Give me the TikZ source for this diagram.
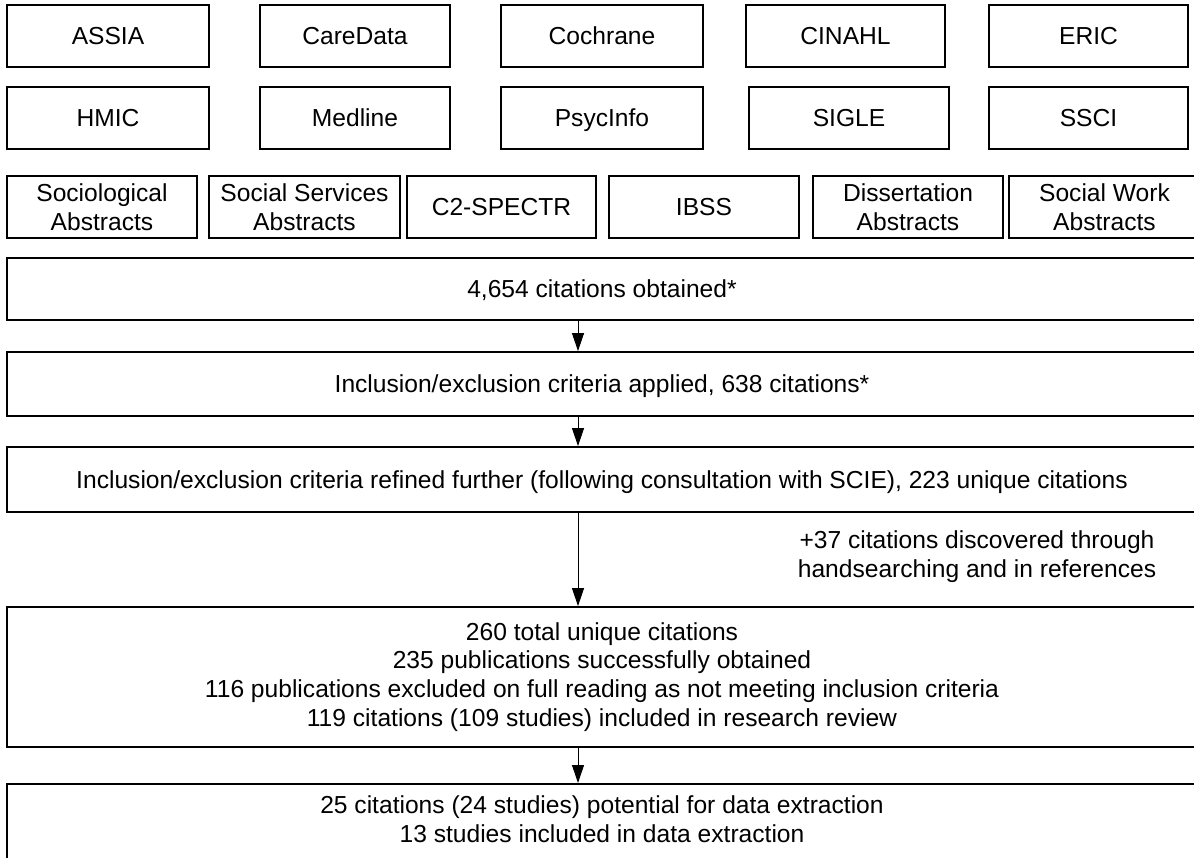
\documentclass[tikz,border=0pt]{standalone}
\usepackage{fontspec}
\setmainfont{Liberation Sans}
\usetikzlibrary{arrows.meta}
\begin{document}
\begin{tikzpicture}[x=1pt,y=-1pt,
  txt/.style={font=\fontsize{24.6}{28.8}\selectfont, align=center},
  one/.style={text height=18pt, text depth=1pt},
  db/.style={txt, draw, line width=1.8pt, inner sep=0pt, minimum height=62pt},
  wide/.style={txt, draw, line width=1.8pt, inner sep=0pt, minimum width=1190pt},
  arr/.style={-{Triangle[length=18pt,width=12pt]}, line width=1pt}]
\useasboundingbox (0,0) rectangle (1194,858);
\clip (0,0) rectangle (1194,858);
% row 1
\node[db, one, minimum width=202pt] (assia) at (108,36) {ASSIA};
\node[db, one, minimum width=190pt] (care) at (355,36) {CareData};
\node[db, one, minimum width=202pt] (coch) at (602,36) {Cochrane};
\node[db, one, minimum width=199pt] (cin) at (845.5,36) {CINAHL};
\node[db, one, minimum width=199pt] (eric) at (1088.5,36) {ERIC};
% row 2
\node[db, one, minimum width=202pt] (hmic) at (108,118) {HMIC};
\node[db, one, minimum width=190pt] (med) at (355,118) {Medline};
\node[db, one, minimum width=202pt] (psy) at (602,118) {PsycInfo};
\node[db, one, minimum width=200pt] (sig) at (849,118) {SIGLE};
\node[db, one, minimum width=199pt] (ssci) at (1088.5,118) {SSCI};
% row 3
\node[db, minimum width=190pt] (soc) at (102,207) {Sociological\\Abstracts};
\node[db, minimum width=191pt] (ssa) at (304.5,207) {Social Services\\Abstracts};
\node[db, one, minimum width=189pt] (c2) at (501.5,207) {C2-SPECTR};
\node[db, one, minimum width=190pt] (ibss) at (704,207) {IBSS};
\node[db, minimum width=190pt] (diss) at (908,207) {Dissertation\\Abstracts};
\node[db, minimum width=191pt] (swa) at (1104.5,207) {Social Work\\Abstracts};
% flow boxes
\node[wide, one, minimum height=62pt] (b1) at (602,289) {4,654 citations obtained*};
\node[wide, one, minimum height=64pt] (b2) at (602,384) {Inclusion/exclusion criteria applied, 638 citations*};
\node[wide, one, minimum height=65pt] (b3) at (602,479.5) {Inclusion/exclusion criteria refined further (following consultation with SCIE), 223 unique citations};
\node[wide, minimum height=140pt] (b4) at (602,677) {260 total unique citations\\235 publications successfully obtained\\116 publications excluded on full reading as not meeting inclusion criteria\\119 citations (109 studies) included in research review};
\node[wide, anchor=north, inner ysep=12pt] (b5) at (602,783) {25 citations (24 studies) potential for data extraction\\13 studies included in data extraction\rule[-60pt]{0pt}{0pt}};
\coordinate (ax) at (578,0);
\draw[arr] (b1.south -| ax) -- (b2.north -| ax);
\draw[arr] (b2.south -| ax) -- (b3.north -| ax);
\draw[arr] (b3.south -| ax) -- (b4.north -| ax);
\draw[arr] (b4.south -| ax) -- (b5.north -| ax);
\node[txt] (hand) at (977,557) {+37 citations discovered through\\handsearching and in references};
\end{tikzpicture}
\end{document}
